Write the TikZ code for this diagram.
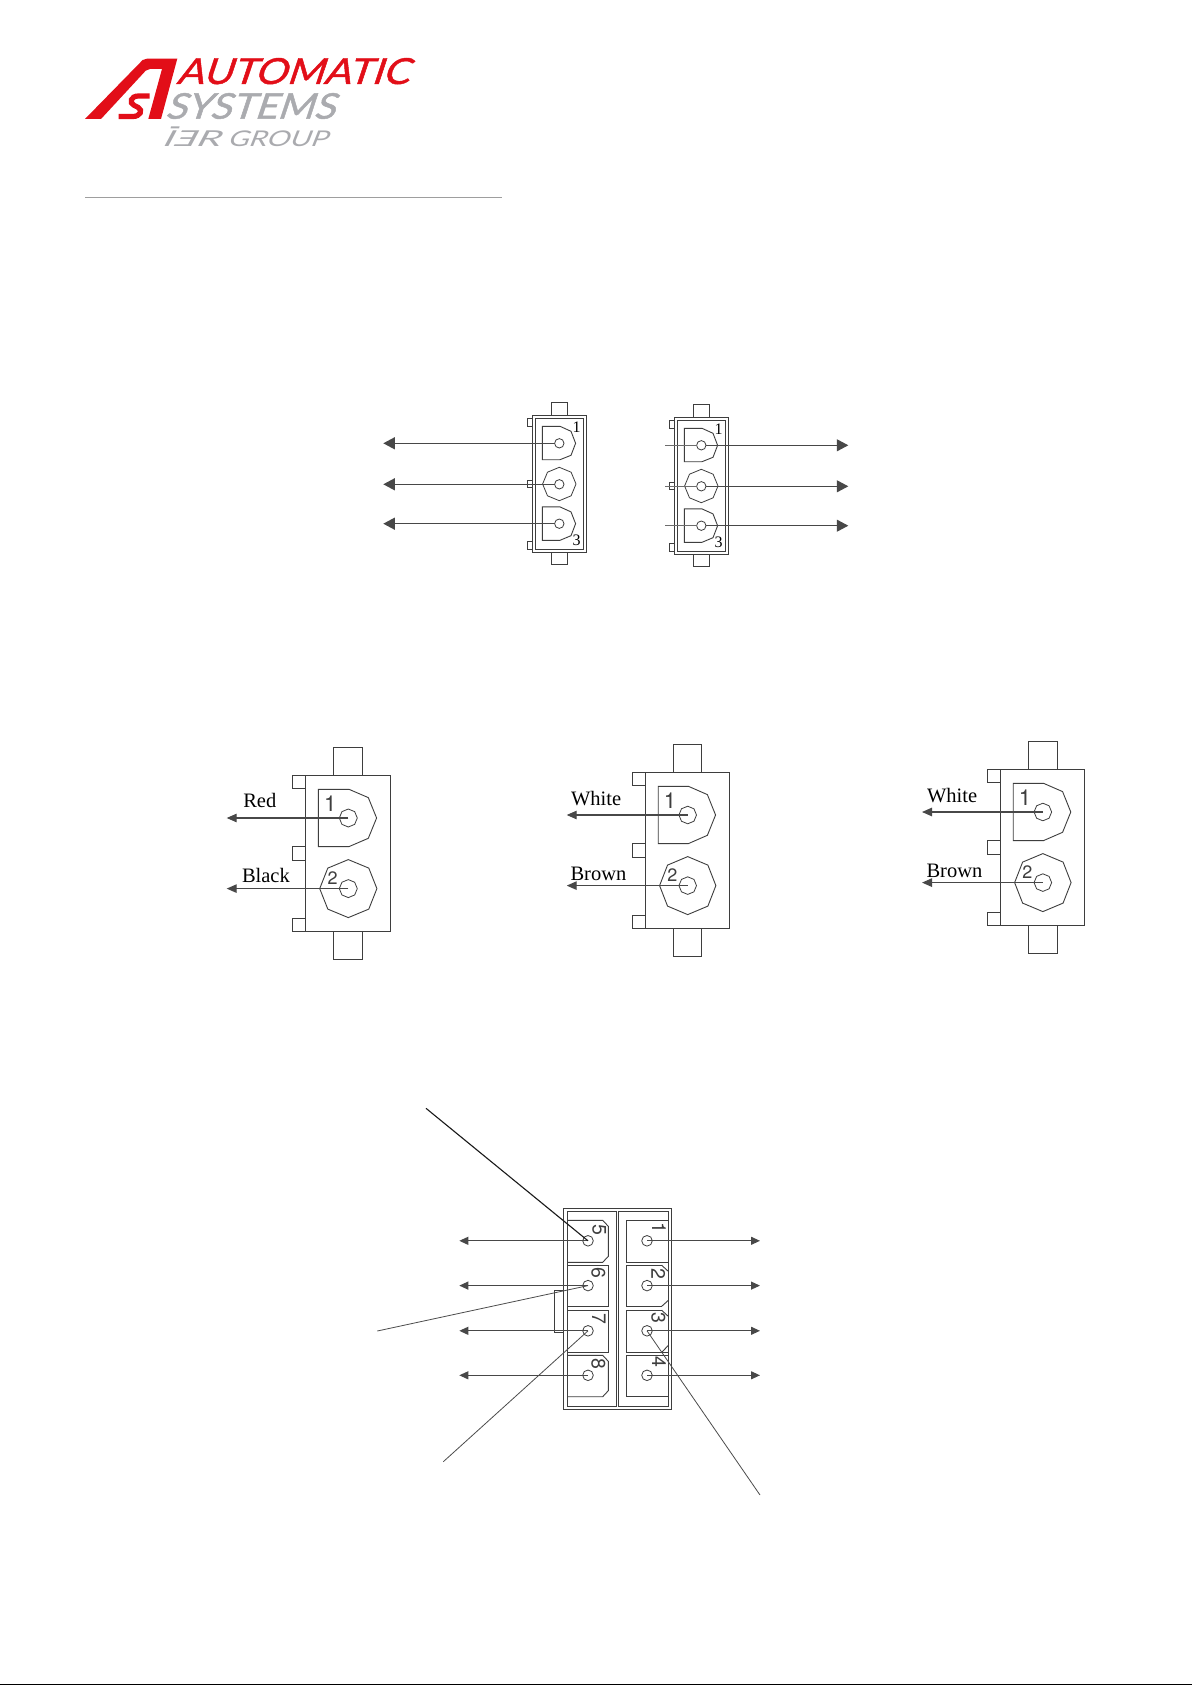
\documentclass[tikz,border=0pt]{standalone}
\usepackage{fontspec}
\usepackage{graphicx}
\setmainfont{Liberation Serif}
\setsansfont{TeX Gyre Heros}
\newfontfamily\logofont{Lato}[FakeSlant=0.3,FakeBold=1.2]
\newfontfamily\logolight{Lato}[FakeSlant=0.3]
\newfontfamily\logoback{Lato}[FakeSlant=-0.3]
\usetikzlibrary{arrows.meta,shapes.geometric}
\definecolor{asred}{RGB}{226,14,24}
\definecolor{asgrey}{RGB}{170,171,175}
\definecolor{rulegrey}{RGB}{158,158,158}
\definecolor{ink}{RGB}{62,62,62}
\definecolor{wire}{RGB}{72,72,72}
\tikzset{
  outline/.style={draw=ink,line width=0.9pt,line join=miter},
  pinoct/.style={regular polygon,regular polygon sides=8,regular polygon rotate=22.5,draw=ink,line width=0.8pt,inner sep=0pt,outer sep=0pt,minimum size=#1},
  pinround/.style={circle,draw=ink,line width=0.8pt,inner sep=0pt,outer sep=0pt,minimum size=#1},
  wirebig/.style={draw=wire,line width=1.1pt,-{Triangle[length=11.5pt,width=12pt]}},
  wiremid/.style={draw=wire,line width=1.1pt,-{Triangle[length=10pt,width=8.5pt]}},
  wiresmall/.style={draw=wire,line width=1.1pt,-{Triangle[length=9pt,width=8pt]}},
  stub/.style={draw=wire!80,line width=1.1pt},
  leader/.style={draw=black!70,line width=0.8pt},
  strongleader/.style={draw=black!90,line width=1.1pt},
  tag/.style={inner sep=0pt,outer sep=0pt,font=\fontsize{20.5}{20.5}\selectfont,anchor=base west},
  digit/.style={inner sep=0pt,outer sep=0pt,text=ink,font=\sffamily\fontsize{#1}{#1}\selectfont},
  digit/.default=20,
  smalldigit/.style={inner sep=0pt,outer sep=0pt,font=\fontsize{16}{16}\selectfont},
  logotext/.style={inner sep=0pt,outer sep=0pt,anchor=south west},
}
% three way connector; origin at the outer top left corner
\newcommand{\triconn}[3]{%
\begin{scope}[shift={(#2,#3)}]
  \draw[outline] (0,0) rectangle (54.5,137.4);
  \draw[outline] (3,3) rectangle (51,133.7);
  \draw[outline] (19,0) rectangle (35,-13);
  \draw[outline] (19,137.4) rectangle (35,149.4);
  \draw[outline] (0,3) rectangle (-5,11.4);
  \draw[outline] (0,64.7) rectangle (-5,72.4);
  \draw[outline] (0,125.7) rectangle (-5,133.7);
  \draw[outline] (10,11) -- (27.7,11) -- (38.7,16) -- (43.3,28) -- (38.7,40) -- (27.7,44.4) -- (10,44.4) -- cycle;
  \draw[outline] (10,91.6) -- (27.7,91.6) -- (38.7,96.6) -- (43.3,108.4) -- (38.7,120.4) -- (27.7,125) -- (10,125) -- cycle;
  \node[pinoct=33.4pt] (#1oct) at (27,68.7) {};
  \node[pinround=9.4pt] (#1a) at (27,28) {};
  \node[pinround=9.4pt] (#1b) at (27,69) {};
  \node[pinround=9.4pt] (#1c) at (27,108.4) {};
  \node[smalldigit] (#1one) at (44.4,12) {1};
  \node[smalldigit] (#1three) at (44.4,125.4) {3};
\end{scope}}
% two way connector; origin at the body top left corner
\newcommand{\duoconn}[5]{%
\begin{scope}[shift={(#2,#3)},xscale=#4]
  \draw[outline] (0,0) rectangle (85.3,156);
  \draw[outline] (28,0) rectangle (57.3,-28);
  \draw[outline] (28,156) rectangle (57.3,184);
  \draw[outline] (0,0) rectangle (-13,13.3);
  \draw[outline] (0,71.3) rectangle (-13,84.7);
  \draw[outline] (0,143) rectangle (-13,156);
  \draw[outline] (13,14) -- (43.7,14) -- (63,22.3) -- (71.3,42.7) -- (63,63) -- (43.7,71.3) -- (13,71.3) -- cycle;
  \draw[outline] (43,84.3) -- (63.5,92.8) -- (71.6,113.3) -- (63.5,133.8) -- (43,142.3) -- (22.5,133.8) -- (14.4,113.3) -- (22.5,92.8) -- cycle;
  \node[pinoct=#5] (#1a) at (43,42.7) {};
  \node[pinoct=#5] (#1b) at (43,113.3) {};
  \node[digit=22] (#1one) at (25,28.7) {1};
  \node[digit=18] (#1two) at (27.3,103) {2};
\end{scope}}
\begin{document}
\begin{tikzpicture}[x=1pt,y=-1pt]
\useasboundingbox (0,0) rectangle (1192,1685);
\fill[white] (0,0) rectangle (1192,1685);

% ---------- logo
\fill[asred,line join=round] (85,119) -- (142.7,60) .. controls (144,59) and (145,58.7) .. (147,58.7) -- (177.3,58.7) -- (161,119) -- (148.3,119) -- (162,69) -- (150,69) .. controls (148,69) and (147,69.5) .. (145.7,70.7) -- (101,119) -- cycle;
\draw[asred,line width=5.2pt] (149.5,96) -- (138.5,96) .. controls (130.5,96) and (129,103) .. (134,105.3) -- (138,107.3) .. controls (143.5,110.3) and (140,116.5) .. (133,116.5) -- (118.5,116.5);
\node[logotext,text=asred] (brand) at (176.2,84.3) {\resizebox{232.5pt}{26pt}{\logofont AUTOMATIC}};
\node[logotext,text=asgrey] (systems) at (165,119) {\resizebox{169.5pt}{25.7pt}{\logofont SYSTEMS}};
\node[logotext,text=asgrey] (ier) at (161,146.7) {\resizebox{58pt}{15.7pt}{\logolight I\reflectbox{\logoback E}R}};
\fill[asgrey] (171,126.5) -- (179.5,126.5) -- (179,128.5) -- (170.5,128.5) -- cycle;
\node[logotext,text=asgrey] (group) at (227,146.7) {\resizebox{99.7pt}{15.7pt}{\logolight GROUP}};
\draw[rulegrey,line width=1.6pt] (85,197.7) -- (501.7,197.7);

% ---------- three way connectors
\triconn{l}{532.3}{415.3}
\triconn{r}{674.3}{417.3}
\coordinate (ltipa) at (383.3,443.3);
\coordinate (ltipb) at (383.3,484.3);
\coordinate (ltipc) at (383.3,523.7);
\draw[wirebig] (la.west) -- (ltipa);
\draw[wirebig] (lb.west) -- (ltipb);
\draw[wirebig] (lc.west) -- (ltipc);
\coordinate (rstuba) at (665,445.3);
\coordinate (rstubb) at (665,486.3);
\coordinate (rstubc) at (665,525.7);
\coordinate (rtipa) at (848.3,445.3);
\coordinate (rtipb) at (848.3,486.3);
\coordinate (rtipc) at (848.3,525.7);
\draw[stub] (rstuba) -- (ra.west);
\draw[stub] (rstubb) -- (rb.west);
\draw[stub] (rstubc) -- (rc.west);
\draw[wirebig] (ra.east) -- (rtipa);
\draw[wirebig] (rb.east) -- (rtipb);
\draw[wirebig] (rc.east) -- (rtipc);

% ---------- two way connectors
\duoconn{p}{305.3}{775.3}{1}{18pt}
\duoconn{q}{645.4}{772.3}{0.984}{17.6pt}
\duoconn{s}{1000.4}{769.3}{0.987}{17.6pt}
\coordinate (ptipa) at (226.7,818);
\coordinate (ptipb) at (226.7,888.6);
\coordinate (qtipa) at (566.7,815);
\coordinate (qtipb) at (566.7,885.6);
\coordinate (stipa) at (922,812);
\coordinate (stipb) at (922,882.6);
\draw[wiremid] (pa.center) -- (ptipa);
\draw[wiremid] (pb.center) -- (ptipb);
\draw[wiremid] (qa.center) -- (qtipa);
\draw[wiremid] (qb.center) -- (qtipb);
\draw[wiremid] (sa.center) -- (stipa);
\draw[wiremid] (sb.center) -- (stipb);
\node[tag] (tagred) at (243.3,807.7) {Red};
\node[tag] (tagblack) at (242,882.7) {Black};
\node[tag] (tagwhiteq) at (571,805) {White};
\node[tag] (tagbrownq) at (570.5,880) {Brown};
\node[tag] (tagwhites) at (927,802.3) {White};
\node[tag] (tagbrowns) at (926.5,877) {Brown};

% ---------- eight way connector
\draw[outline] (563.3,1208.3) rectangle (671.7,1409.3);
\draw[outline] (567.3,1211.3) rectangle (616.3,1406.7);
\draw[outline] (618.3,1211.3) rectangle (668.7,1406.7);
\draw[outline] (554.3,1290.3) rectangle (563.3,1332.7);
% left cavities
\draw[outline] (567.3,1220.3) -- (602.7,1220.3) -- (608.3,1226.3) -- (608.3,1256.3) -- (602.7,1262.3) -- (567.3,1262.3);
\draw[outline] (567.3,1265.3) -- (608.3,1265.3) -- (608.3,1306.3) -- (567.3,1306.3);
\draw[outline] (567.3,1310.3) -- (608.3,1310.3) -- (608.3,1352.3) -- (567.3,1352.3);
\draw[outline] (567.3,1355.3) -- (602.7,1355.3) -- (608.3,1361.3) -- (608.3,1390.7) -- (602.7,1396.7) -- (567.3,1396.7);
% right cavities
\draw[outline] (668.7,1220.3) -- (626.3,1220.3) -- (626.3,1262.3) -- (668.7,1262.3);
\draw[outline] (661.7,1265.3) -- (626.3,1265.3) -- (626.3,1306.3) -- (661.7,1306.3);
\draw[outline] (661.7,1265.3) -- (668.7,1271.7);
\draw[outline] (661.7,1306.3) -- (668.7,1300);
\draw[outline] (661.7,1310.3) -- (626.3,1310.3) -- (626.3,1352.3) -- (668.7,1352.3);
\draw[outline] (661.7,1310.3) -- (668.7,1316.7);
\draw[outline] (661.7,1352.3) -- (668.7,1345);
\draw[outline] (668.7,1355.3) -- (626.3,1355.3) -- (626.3,1396.7) -- (668.7,1396.7);
% pins
\node[pinround=10.6pt] (e5) at (588,1240.8) {};
\node[pinround=10.6pt] (e6) at (588,1285.6) {};
\node[pinround=10.6pt] (e7) at (588,1330.8) {};
\node[pinround=10.6pt] (e8) at (588,1375.3) {};
\node[pinround=10.6pt] (e1) at (647,1240.8) {};
\node[pinround=10.6pt] (e2) at (647,1285.6) {};
\node[pinround=10.6pt] (e3) at (647,1330.8) {};
\node[pinround=10.6pt] (e4) at (647,1375.3) {};
\node[digit=19.5,rotate=-90] (d5) at (599.3,1229.7) {5};
\node[digit=19.5,rotate=-90] (d6) at (598.3,1273.3) {6};
\node[digit=19.5,rotate=-90] (d7) at (599,1319) {7};
\node[digit=19.5,rotate=-90] (d8) at (598.3,1364) {8};
\node[digit=19.5,rotate=-90] (d1) at (659,1227.7) {1};
\node[digit=19.5,rotate=-90] (d2) at (658.3,1274) {2};
\node[digit=19.5,rotate=-90] (d3) at (658.3,1318.3) {3};
\node[digit=19.5,rotate=-90] (d4) at (659,1361.7) {4};
% arrows
\coordinate (tl5) at (459.3,1240.8);
\coordinate (tl6) at (459.3,1285.6);
\coordinate (tl7) at (459.3,1330.8);
\coordinate (tl8) at (459.3,1375.3);
\coordinate (tr1) at (760,1240.8);
\coordinate (tr2) at (760,1285.6);
\coordinate (tr3) at (760,1330.8);
\coordinate (tr4) at (760,1375.3);
\draw[wiresmall] (e5.center) -- (tl5);
\draw[wiresmall] (e6.center) -- (tl6);
\draw[wiresmall] (e7.center) -- (tl7);
\draw[wiresmall] (e8.center) -- (tl8);
\draw[wiresmall] (e1.center) -- (tr1);
\draw[wiresmall] (e2.center) -- (tr2);
\draw[wiresmall] (e3.center) -- (tr3);
\draw[wiresmall] (e4.center) -- (tr4);
% leaders
\coordinate (ldtop) at (426,1108.3);
\coordinate (ldsix) at (377.3,1331);
\coordinate (ldseven) at (443.3,1461.7);
\coordinate (ldthree) at (760,1495);
\draw[strongleader] (ldtop) -- (e5.center);
\draw[leader] (ldsix) -- (e6.center);
\draw[leader] (ldseven) -- (e7.center);
\draw[leader] (ldthree) -- (e3.center);

% page edge
\draw[black,line width=1.5pt] (0,1684.3) -- (1192,1684.3);
\end{tikzpicture}
\end{document}
